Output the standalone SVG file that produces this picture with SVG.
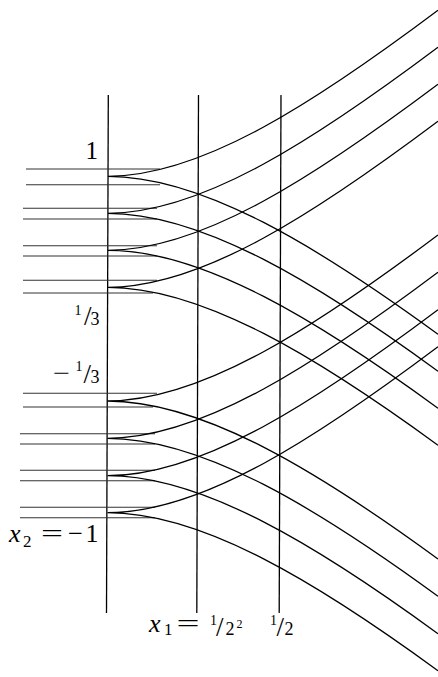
<svg xmlns="http://www.w3.org/2000/svg" width="438" height="677" viewBox="0 0 438 677">
<style>
.ax{stroke:#000;stroke-width:1.3;fill:none}
.st{stroke:#333;stroke-width:1.1;fill:none}
.cv{stroke:#000;stroke-width:1.3;fill:none}
.lb{font-family:Liberation Serif,Times New Roman,Times,serif;fill:#000}
.it{font-style:italic}
</style>
<rect width="438" height="677" fill="#fff"/>
<g id="axes">
<line class="ax" x1="108.3" y1="95" x2="106.5" y2="613"/>
<line class="ax" x1="198.5" y1="95" x2="196.8" y2="613"/>
<line class="ax" x1="281" y1="95" x2="279.2" y2="613"/>
</g>
<g id="stubs">
<line class="st" x1="26" y1="169" x2="160" y2="169"/>
<line class="st" x1="26" y1="184.7" x2="160" y2="184.7"/>
<line class="st" x1="23" y1="208.3" x2="157" y2="208.3"/>
<line class="st" x1="23" y1="219" x2="157" y2="219"/>
<line class="st" x1="23" y1="245.7" x2="157" y2="245.7"/>
<line class="st" x1="23" y1="256" x2="157" y2="256"/>
<line class="st" x1="23" y1="280.3" x2="157" y2="280.3"/>
<line class="st" x1="23" y1="293" x2="153" y2="293"/>
<line class="st" x1="23" y1="393.3" x2="157" y2="393.3"/>
<line class="st" x1="23" y1="407" x2="153" y2="407"/>
<line class="st" x1="20" y1="433.7" x2="155" y2="433.7"/>
<line class="st" x1="20" y1="444" x2="155" y2="444"/>
<line class="st" x1="20" y1="470.3" x2="155" y2="470.3"/>
<line class="st" x1="20" y1="480.7" x2="155" y2="480.7"/>
<line class="st" x1="20" y1="507.3" x2="155" y2="507.3"/>
<line class="st" x1="20" y1="517.7" x2="155" y2="517.7"/>
</g>
<g id="connectors">
<path class="cv" d="M108,176.3 C203,176.3 318,100.3 438,10.3 M108,176.3 C203,176.3 318,246.7 438,334.3"/>
<path class="cv" d="M108,213.3 C203,213.3 318,137.3 438,47.3 M108,213.3 C203,213.3 318,283.7 438,371.3"/>
<path class="cv" d="M108,250.3 C203,250.3 318,174.3 438,84.3 M108,250.3 C203,250.3 318,320.7 438,408.3"/>
<path class="cv" d="M108,287.3 C203,287.3 318,211.3 438,121.3 M108,287.3 C203,287.3 318,357.7 438,445.3"/>
<path class="cv" d="M107.5,401 C203,401 318,325 438,235 M107.5,401 C203,401 318,471.4 438,559"/>
<path class="cv" d="M107.5,438.3 C203,438.3 318,362.3 438,272.3 M107.5,438.3 C203,438.3 318,508.7 438,596.3"/>
<path class="cv" d="M107.5,475.7 C203,475.7 318,399.7 438,309.7 M107.5,475.7 C203,475.7 318,546.1 438,633.7"/>
<path class="cv" d="M107.5,512.7 C203,512.7 318,436.7 438,346.7 M107.5,512.7 C203,512.7 318,583.1 438,670.7"/>
</g>
<g id="labels">
<text class="lb" x="85.5" y="159" font-size="25">1</text>
<text class="lb" font-size="14" x="74.5" y="315">1</text>
<text class="lb" font-size="27" x="84" y="325">/</text>
<text class="lb" font-size="18" x="90.5" y="325">3</text>
<text class="lb" font-size="24" x="53" y="381" textLength="17" lengthAdjust="spacingAndGlyphs">−</text>
<text class="lb" font-size="14" x="75.5" y="371">1</text>
<text class="lb" font-size="27" x="83.5" y="383">/</text>
<text class="lb" font-size="18" x="90.5" y="383">3</text>
<text class="lb it" font-size="26" x="9" y="542">x</text>
<text class="lb" font-size="17" x="23" y="547">2</text>
<text class="lb" font-size="26" x="41" y="542" textLength="22" lengthAdjust="spacingAndGlyphs">=</text>
<text class="lb" font-size="26" x="68" y="542" textLength="15" lengthAdjust="spacingAndGlyphs">−</text>
<text class="lb" font-size="26" x="85.5" y="542">1</text>
<text class="lb it" font-size="26" x="149" y="632">x</text>
<text class="lb" font-size="17" x="164" y="635">1</text>
<text class="lb" font-size="26" x="176.5" y="632" textLength="23" lengthAdjust="spacingAndGlyphs">=</text>
<text class="lb" font-size="14" x="210" y="625">1</text>
<text class="lb" font-size="27" x="216" y="636">/</text>
<text class="lb" font-size="18" x="225.5" y="635">2</text>
<text class="lb" font-size="12" x="236.5" y="628">2</text>
<text class="lb" font-size="14" x="270" y="625">1</text>
<text class="lb" font-size="27" x="276.5" y="636">/</text>
<text class="lb" font-size="18" x="284.5" y="635">2</text>
</g>
</svg>
